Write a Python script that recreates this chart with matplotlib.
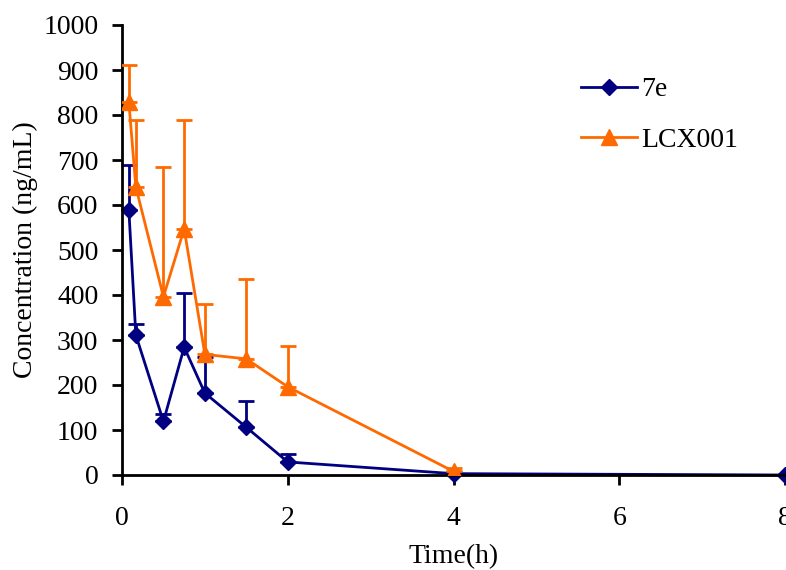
import matplotlib
matplotlib.use("Agg")
import matplotlib.pyplot as plt
import numpy as np

plt.rcParams['font.family'] = ['Liberation Serif', 'DejaVu Serif']

time_7e = [0.083, 0.167, 0.5, 0.75, 1.0, 1.5, 2.0, 4.0, 8.0]
conc_7e = [588, 311, 119, 284, 182, 106, 29, 3, 0]
err_7e = [100, 25, 17, 120, 80, 58, 17, 3, 0]

time_lcx = [0.083, 0.167, 0.5, 0.75, 1.0, 1.5, 2.0, 4.0]
conc_lcx = [828, 640, 396, 547, 268, 258, 196, 8]
err_lcx = [83, 150, 288, 243, 111, 177, 91, 7]

xticks = [0, 2, 4, 6, 8]
yticks = list(range(0, 1001, 100))

navy = '#000080'
orange = '#FF6A00'

fig = plt.figure(figsize=(7.86, 5.70), dpi=100)
ax = fig.add_axes([122/786, 95/570, 663/786, 450/570])

c_lcx = ax.errorbar(time_lcx, conc_lcx, yerr=[np.zeros(len(err_lcx)), err_lcx],
                    color=orange, marker='^', markersize=12, linewidth=2,
                    elinewidth=2, capsize=6, capthick=2, label='LCX001', zorder=3)
c_7e = ax.errorbar(time_7e, conc_7e, yerr=[np.zeros(len(err_7e)), err_7e],
                   color=navy, marker='D', markersize=8, linewidth=2,
                   elinewidth=2, capsize=6, capthick=2, label='7e', zorder=2,
                   clip_on=False)

ax.set_xlim(0, 8)
ax.set_ylim(0, 1000)
ax.set_xticks(xticks)
ax.set_yticks(yticks)
ax.tick_params(axis='both', direction='out', length=7, width=2, labelsize=20)
ax.tick_params(axis='x', pad=15)
ax.tick_params(axis='y', pad=10)
for s in ['top', 'right']:
    ax.spines[s].set_visible(False)
for s in ['left', 'bottom']:
    ax.spines[s].set_linewidth(2)

ax.set_xlabel('Time(h)', fontsize=20, labelpad=10)
ax.set_ylabel('Concentration (ng/mL)', fontsize=20, labelpad=4)

ax.legend([c_7e[0], c_lcx[0]], ['7e', 'LCX001'],
          frameon=False, fontsize=20, loc='upper left',
          bbox_to_anchor=(0.655, 0.94), handlelength=2.0, labelspacing=0.9,
          handletextpad=0.15)

fig.savefig('out.png', dpi=100)
